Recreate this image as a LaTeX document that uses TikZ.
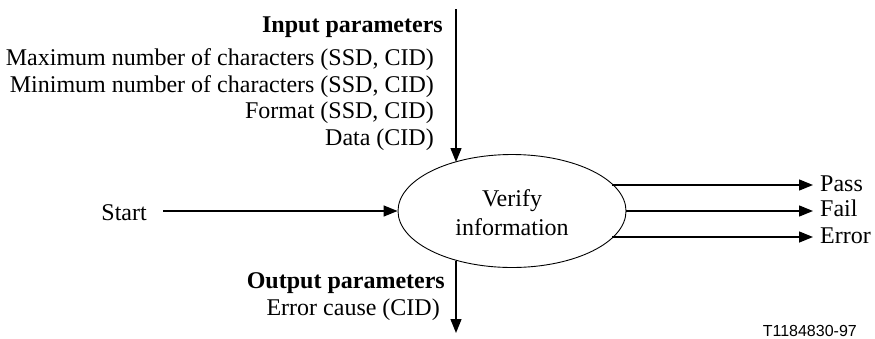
\documentclass[tikz,border=0pt]{standalone}
\usepackage{fontspec}
\setmainfont{Liberation Serif}
\newfontfamily\labelsans{Liberation Sans}
\usetikzlibrary{arrows.meta,shapes.geometric}
\begin{document}
\begin{tikzpicture}[x=1pt,y=-1pt,
  txt/.style={font=\fontsize{24}{29}\selectfont, inner sep=0pt},
  btxt/.style={font=\bfseries\fontsize{24}{29}\selectfont, inner sep=0pt},
  arr/.style={-{Triangle[length=14pt,width=11pt]}, line width=1.4pt},
  proc/.style={ellipse, draw, line width=0.9pt, minimum width=228pt, minimum height=113pt, inner sep=0pt}]
\useasboundingbox (0,0) rectangle (875,338);
\node[proc] (v) at (512,211) {};
\node[txt, align=center] (vt) at (512,213) {Verify\\information};
\node[btxt, anchor=base east] (ip) at (443,32) {Input parameters};
\node[txt, anchor=base east] (l1) at (434,65) {Maximum number of characters (SSD, CID)};
\node[txt, anchor=base east] (l2) at (434,92) {Minimum number of characters (SSD, CID)};
\node[txt, anchor=base east] (l3) at (434,118) {Format (SSD, CID)};
\node[txt, anchor=base east] (l4) at (434,145) {Data (CID)};
\node[btxt, anchor=base east] (op) at (445,288) {Output parameters};
\node[txt, anchor=base east] (oc) at (440,315) {Error cause (CID)};
\node[txt, anchor=base east] (start) at (147,220) {Start};
\node[txt, anchor=base west] (pass) at (820,191) {Pass};
\node[txt, anchor=base west] (fail) at (820,216) {Fail};
\node[txt, anchor=base west] (err) at (820,243) {Error};
\node[inner sep=0pt, anchor=base east, font=\labelsans\fontsize{16}{18}\selectfont] (tag) at (857,336) {T1184830-97};
\coordinate (sa) at (163,211);
\coordinate (intop) at (456,9);
\coordinate (inend) at (456,162);
\coordinate (outstart) at (456,261);
\coordinate (outbot) at (456,333);
\coordinate (ps) at (612,185);
\coordinate (es) at (612,237);
\coordinate (pe) at (813,185);
\coordinate (fe) at (813,211);
\coordinate (ee) at (813,237);
\draw[arr] (sa) -- (v.west);
\draw[arr] (intop) -- (inend);
\draw[arr] (outstart) -- (outbot);
\draw[arr] (ps) -- (pe);
\draw[arr] (v.east) -- (fe);
\draw[arr] (es) -- (ee);
\end{tikzpicture}
\end{document}
